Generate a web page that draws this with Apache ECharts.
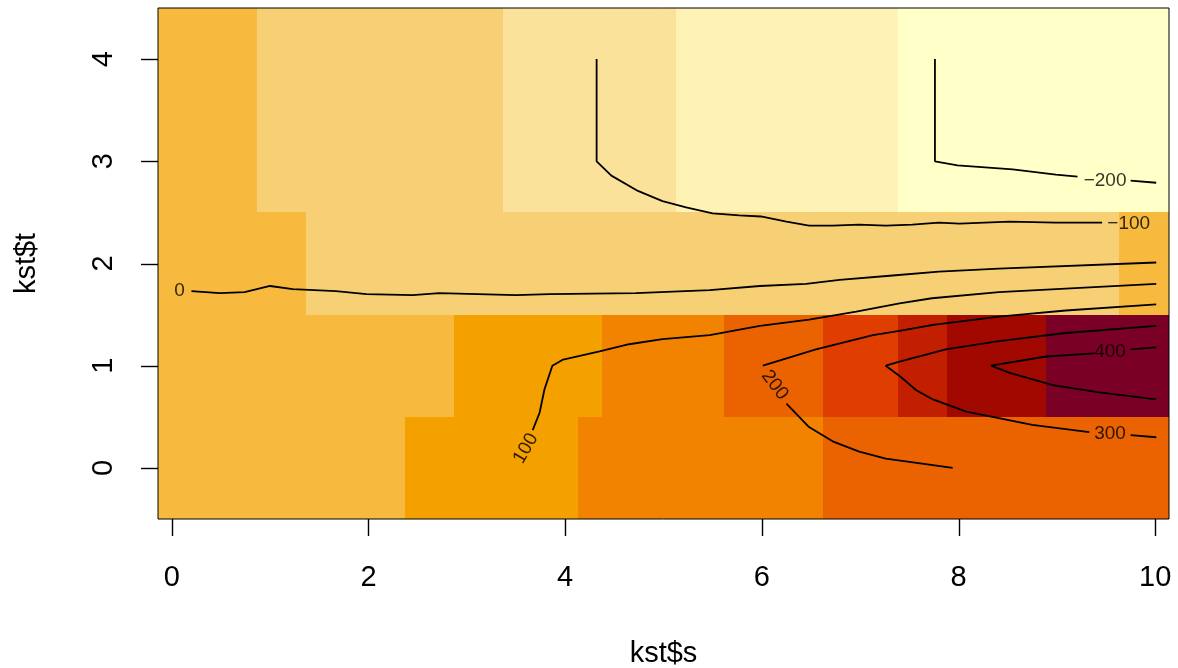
<!DOCTYPE html>
<html><head><meta charset="utf-8">
<script src="https://cdn.jsdelivr.net/npm/echarts@6/dist/echarts.min.js"></script>
<style>html,body{margin:0;padding:0;background:#fff}#c{width:1178px;height:668px}</style>
</head><body><div id="c"></div>
<script>
// cell edges along s (midpoints between grid values), rows centred on t
var sBreaks = [-0.14, 0.865, 1.36, 2.37, 2.87, 3.37, 4.13, 4.37, 5.13, 5.62, 6.62, 7.38, 7.88, 8.89, 9.63, 10.14];
var tValues = [0, 1, 2, 3, 4];
var zT0 = [10, 10, 10, 70, 70, 70, 130, 130, 130, 130, 190, 190, 190, 190, 190];
var zT1 = [10, 10, 10, 10, 70, 70, 70, 130, 130, 190, 250, 310, 370, 430, 430];
var zT2 = [10, 10, -50, -50, -50, -50, -50, -50, -50, -50, -50, -50, -50, -50, 10];
var zT3 = [10, -50, -50, -50, -50, -110, -110, -110, -170, -170, -170, -230, -230, -230, -230];
var zT4 = [10, -50, -50, -50, -50, -110, -110, -110, -170, -170, -170, -230, -230, -230, -230];
var palette = ['#FFFFC8', '#FEF3B4', '#FAE29A', '#F7CF74', '#F7BA3E', '#F4A100',
               '#F18300', '#EB6200', '#E03D00', '#C21E00', '#A10900', '#7A0026'];
var zMin = -260, zStep = 60;
var xTicks = [0, 2, 4, 6, 8, 10];
var yTicks = [0, 1, 2, 3, 4];

// contour lines (s, t), split where labels interrupt
var cM200a = [[7.76, 4], [7.76, 3], [7.99, 2.96], [8.55, 2.92], [8.99, 2.87], [9.21, 2.85]];
var cM200b = [[9.75, 2.81], [10.01, 2.79]];
var cM100 = [[4.32, 4], [4.32, 3], [4.47, 2.86], [4.74, 2.71], [4.99, 2.61], [5.23, 2.55], [5.50, 2.49], [5.77, 2.47], [5.99, 2.46], [6.25, 2.41], [6.48, 2.37], [6.72, 2.37], [6.99, 2.38], [7.26, 2.37], [7.53, 2.38], [7.80, 2.40], [8.01, 2.39], [8.52, 2.41], [8.99, 2.40], [9.46, 2.40]];
var c0 = [[0.2, 1.73], [0.49, 1.71], [0.74, 1.72], [1.0, 1.78], [1.23, 1.75], [1.67, 1.73], [1.98, 1.70], [2.45, 1.69], [2.72, 1.71], [3.50, 1.69], [3.84, 1.70], [4.72, 1.71], [5.47, 1.74], [5.98, 1.78], [6.45, 1.80], [6.79, 1.84], [7.30, 1.88], [7.80, 1.92], [8.41, 1.95], [10.01, 2.01]];
var c100 = [[3.67, 0.37], [3.74, 0.54], [3.79, 0.77], [3.87, 1.0], [3.98, 1.06], [4.35, 1.14], [4.65, 1.21], [4.99, 1.26], [5.47, 1.30], [5.98, 1.39], [6.48, 1.45], [6.96, 1.53], [7.40, 1.61], [7.73, 1.66], [8.41, 1.72], [10.01, 1.80]];
var c200a = [[10.01, 1.60], [9.09, 1.54], [8.41, 1.48], [7.74, 1.40], [7.40, 1.34], [7.13, 1.30], [6.55, 1.16], [6.01, 1.0]];
var c200b = [[6.25, 0.63], [6.48, 0.40], [6.72, 0.26], [6.99, 0.16], [7.26, 0.09], [7.50, 0.06], [7.94, 0.0]];
var c300a = [[10.01, 1.39], [9.09, 1.32], [8.41, 1.24], [7.87, 1.16], [7.40, 1.04], [7.26, 1.0], [7.40, 0.90], [7.57, 0.76], [7.74, 0.67], [8.08, 0.55], [8.75, 0.42], [9.33, 0.35]];
var c300b = [[9.75, 0.32], [10.01, 0.30]];
var c400a = [[10.01, 1.18], [9.75, 1.16]];
var c400b = [[9.38, 1.12], [8.89, 1.09], [8.33, 1.0], [8.52, 0.93], [8.96, 0.81], [9.43, 0.74], [10.01, 0.67]];
var contourLabels = [
  {text: '\u2212200', pos: [9.49, 2.81], rot: 0},
  {text: '\u2212100', pos: [9.73, 2.39], rot: 0},
  {text: '0', pos: [0.08, 1.73], rot: 0},
  {text: '100', pos: [3.60, 0.19], rot: 60},
  {text: '200', pos: [6.13, 0.81], rot: -53},
  {text: '300', pos: [9.54, 0.33], rot: 0},
  {text: '400', pos: [9.54, 1.14], rot: 0}
];

var X_MIN = -0.14, X_MAX = 10.14, Y_MIN = -0.5, Y_MAX = 4.5;
var zRows = [zT0, zT1, zT2, zT3, zT4];
var cells = [];
zRows.forEach(function (row, r) {
  row.forEach(function (z, i) {
    cells.push([sBreaks[i], sBreaks[i + 1], tValues[r], z]);
  });
});
function colorOf(z) {
  var k = Math.floor((z - zMin) / zStep);
  k = Math.max(0, Math.min(palette.length - 1, k));
  return palette[k];
}
var FONT = 'Liberation Sans, Arial, sans-serif';
var TICK = 17;
var lineSegs = [cM200a, cM200b, cM100, c0, c100, c200a, c200b, c300a, c300b, c400a, c400b];
var series = [{
  type: 'custom',
  data: cells,
  clip: true,
  z: 1,
  renderItem: function (params, api) {
    var p0 = api.coord([api.value(0), api.value(2) + 0.5]);
    var p1 = api.coord([api.value(1), api.value(2) - 0.5]);
    var x0 = Math.round(p0[0]), y0 = Math.round(p0[1]);
    var x1 = Math.round(p1[0]), y1 = Math.round(p1[1]);
    return {type: 'rect', shape: {x: x0, y: y0, width: x1 - x0, height: y1 - y0},
      style: {fill: colorOf(api.value(3))}};
  }
}];
lineSegs.forEach(function (seg) {
  series.push({type: 'line', data: seg, showSymbol: false, symbol: 'none', z: 3,
    lineStyle: {color: '#000', width: 1.8}, silent: true, animation: false});
});
series.push({
  type: 'scatter', z: 4, symbolSize: 0, silent: true,
  data: contourLabels.map(function (l) {
    return {value: l.pos, name: l.text, label: {rotate: l.rot}};
  }),
  label: {show: true, position: 'inside', formatter: '{b}', color: '#000', fontSize: 19, fontFamily: FONT}
});
// axis tick marks, placed through the axes' scales
series.push({
  type: 'custom', clip: false, silent: true, z: 5,
  data: xTicks.map(function (v) { return [v, Y_MIN]; }),
  renderItem: function (params, api) {
    var p = api.coord([api.value(0), api.value(1)]);
    var x = Math.round(p[0]) + 0.5;
    return {type: 'line', shape: {x1: x, y1: p[1], x2: x, y2: p[1] + TICK},
      style: {stroke: '#000', lineWidth: 1.4}};
  }
});
series.push({
  type: 'custom', clip: false, silent: true, z: 5,
  data: yTicks.map(function (v) { return [X_MIN, v]; }),
  renderItem: function (params, api) {
    var p = api.coord([api.value(0), api.value(1)]);
    var y = Math.round(p[1]) + 0.5;
    return {type: 'line', shape: {x1: p[0], y1: y, x2: p[0] - TICK, y2: y},
      style: {stroke: '#000', lineWidth: 1.4}};
  }
});

var chart = echarts.init(document.getElementById('c'), null, {renderer: 'canvas'});
chart.setOption({
  animation: false,
  backgroundColor: '#fff',
  grid: {left: 158, right: 9, top: 8, bottom: 149, containLabel: false, outerBoundsMode: 'none',
    show: true, borderColor: '#000', borderWidth: 1, backgroundColor: 'transparent', z: 10},
  xAxis: {
    type: 'value', min: X_MIN, max: X_MAX,
    splitLine: {show: false}, axisLine: {show: false}, axisTick: {show: false},
    axisLabel: {show: true, customValues: xTicks, margin: 44, fontSize: 29, color: '#000', fontFamily: FONT},
    name: 'kst$s', nameLocation: 'middle', nameGap: 120,
    nameTextStyle: {fontSize: 29, color: '#000', fontFamily: FONT}
  },
  yAxis: {
    type: 'value', min: Y_MIN, max: Y_MAX,
    splitLine: {show: false}, axisLine: {show: false}, axisTick: {show: false},
    axisLabel: {show: true, customValues: yTicks, margin: 40, rotate: 90, fontSize: 29, color: '#000', fontFamily: FONT},
    name: 'kst$t', nameLocation: 'middle', nameGap: 117, nameRotate: 90,
    nameTextStyle: {fontSize: 29, color: '#000', fontFamily: FONT}
  },
  series: series
});
</script></body></html>
